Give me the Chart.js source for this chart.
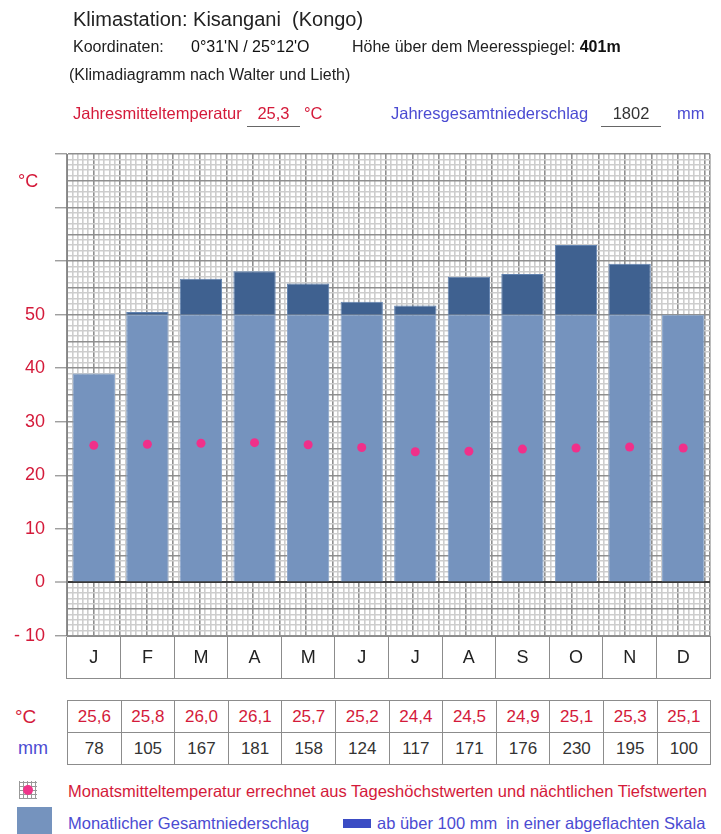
<!DOCTYPE html>
<html>
<head>
<meta charset="utf-8">
<script src="https://cdn.jsdelivr.net/npm/chart.js@4.4.1/dist/chart.umd.min.js"></script>
<style>
  body { margin: 0; background: #fff; font-family: "Liberation Sans", Arial, sans-serif; }
  #page { position: relative; width: 721px; height: 834px; overflow: hidden; }
  .t { position: absolute; white-space: nowrap; line-height: 1; }
  #chart { position: absolute; left: 0; top: 0; }
  .red { color: #d41a3a; }
  .blue { color: #4b4bd2; }
  .uline { position: absolute; height: 0; border-top: 1px solid #666; }
  #tbl { position: absolute; left: 67px; top: 700px; border-collapse: collapse; table-layout: fixed; }
  #tbl td { border: 1px solid #8c8c8c; width: 52.6px; height: 31px; padding: 0; text-align: center; font-size: 17px; }
  #tbl tr.temp td { color: #d41a3a; }
  #tbl tr.mm td { color: #333; }
  .icon { position: absolute; left: 19px; top: 781px; width: 18px; height: 18px;
    background-image: repeating-linear-gradient(0deg, #999 0 1px, transparent 1px 4px),
                      repeating-linear-gradient(90deg, #999 0 1px, transparent 1px 4px); }
  .dot { position: absolute; left: 23px; top: 785px; width: 10px; height: 10px; border-radius: 50%; background: #f0358a; }
</style>
</head>
<body>
<div id="page">
  <canvas id="chart" width="721" height="690"></canvas>

  <div class="t" style="left:73px; top:9px; font-size:20px; color:#222;">Klimastation: Kisangani&nbsp; (Kongo)</div>
  <div class="t" style="left:73px; top:39px; font-size:16px; color:#222;">Koordinaten:</div>
  <div class="t" style="left:191px; top:39px; font-size:16px; color:#111;">0°31'N / 25°12'O</div>
  <div class="t" style="left:352px; top:39px; font-size:16px; color:#222;">Höhe über dem Meeresspiegel: <b style="color:#111">401m</b></div>
  <div class="t" style="left:69px; top:67px; font-size:16px; color:#222;">(Klimadiagramm nach Walter und Lieth)</div>

  <div class="t red" style="left:73px; top:105px; font-size:16.5px;">Jahresmitteltemperatur</div>
  <div class="t red" id="tyear" style="left:247px; width:53px; text-align:center; top:105px; font-size:16.5px;"></div>
  <div class="uline" style="left:247px; top:126px; width:53px;"></div>
  <div class="t red" style="left:304px; top:105px; font-size:16.5px;">°C</div>

  <div class="t blue" style="left:391px; top:105px; font-size:16.5px;">Jahresgesamtniederschlag</div>
  <div class="t" id="pyear" style="left:601px; width:60px; text-align:center; top:105px; font-size:16.5px; color:#333;"></div>
  <div class="uline" style="left:601px; top:126px; width:60px;"></div>
  <div class="t blue" style="left:677px; top:105px; font-size:16.5px;">mm</div>

  <div class="t red" style="left:18px; top:172px; font-size:18px;">°C</div>

  <div class="t red" style="left:15px; top:707px; font-size:19px;">°C</div>
  <div class="t blue" style="left:18px; top:739px; font-size:18px;">mm</div>
  <table id="tbl"><tr class="temp"></tr><tr class="mm"></tr></table>

  <div class="icon"></div><div class="dot"></div>
  <div class="t red" style="left:68px; top:783px; font-size:16.5px;">Monatsmitteltemperatur errechnet aus Tageshöchstwerten und nächtlichen Tiefstwerten</div>
  <div style="position:absolute; left:17px; top:807px; width:35px; height:27px; background:#7593be;"></div>
  <div class="t blue" style="left:68px; top:815px; font-size:16.5px;">Monatlicher Gesamtniederschlag</div>
  <div style="position:absolute; left:343px; top:819px; width:28px; height:9px; background:#3b4cc4;"></div>
  <div class="t blue" style="left:377px; top:815px; font-size:16.5px;">ab über 100 mm&nbsp; in einer abgeflachten Skala</div>
</div>

<script>
var months = ['J', 'F', 'M', 'A', 'M', 'J', 'J', 'A', 'S', 'O', 'N', 'D'];
var temps = [25.6, 25.8, 26.0, 26.1, 25.7, 25.2, 24.4, 24.5, 24.9, 25.1, 25.3, 25.1];
var precip = [78, 105, 167, 181, 158, 124, 117, 171, 176, 230, 195, 100];
var yearTemp = '25,3';
var yearPrecip = '1802';

document.getElementById('tyear').textContent = yearTemp;
document.getElementById('pyear').textContent = yearPrecip;

// table under the diagram
var rowT = document.querySelector('#tbl tr.temp');
var rowP = document.querySelector('#tbl tr.mm');
for (let i = 0; i < 12; i++) {
  let td = document.createElement('td');
  td.textContent = temps[i].toFixed(1).replace('.', ',');
  rowT.appendChild(td);
  let td2 = document.createElement('td');
  td2.textContent = precip[i];
  rowP.appendChild(td2);
}

// Walter-Lieth: 10 °C = 20 mm, above 100 mm the scale is 10x flatter
var lowPart = precip.map(p => Math.min(p, 100) / 2);
var highPart = precip.map(p => p > 100 ? (p - 100) / 10 : 0);

function tickVal(c) {
  return c.tick ? c.tick.value : null;
}
// millimetre paper: thin light lines, every 5th darker
function paperColor(c) {
  var v = tickVal(c);
  if (v === 0 && c.scale.id === 'y') return '#3a3a3a';
  return v % 5 === 0 ? '#8f8f8f' : '#cdcdcd';
}

var monthRow = {
  id: 'monthRow',
  afterDraw(chart) {
    var x = chart.scales.x, c = chart.ctx;
    c.save();
    c.strokeStyle = '#8c8c8c';
    c.lineWidth = 1;
    c.beginPath();
    c.moveTo(x.left, Math.round(x.bottom) - 0.5);
    c.lineTo(x.right, Math.round(x.bottom) - 0.5);
    c.stroke();
    c.restore();
  }
};

var ctx = document.getElementById('chart');
var chart = new Chart(ctx, {
  type: 'bar',
  data: {
    labels: months,
    datasets: [
      {
        label: 'Niederschlag',
        data: lowPart,
        stack: 'p',
        backgroundColor: '#7593be',
        borderColor: '#8ba6cb',
        borderWidth: 1,
        order: 2
      },
      {
        label: 'über 100 mm',
        data: highPart,
        stack: 'p',
        backgroundColor: '#3f6190',
        borderColor: '#6283b0',
        borderWidth: 1,
        order: 2
      },
      {
        type: 'line',
        label: 'Temperatur',
        data: temps,
        stack: 't',
        showLine: false,
        pointRadius: 4.5,
        pointBackgroundColor: '#f0308a',
        pointBorderWidth: 0,
        order: 1
      }
    ]
  },
  options: {
    responsive: false,
    animation: false,
    layout: { padding: { left: 0, right: 11, top: 154, bottom: 11 } },
    barPercentage: 0.79,
    categoryPercentage: 1,
    plugins: { legend: { display: false }, tooltip: { enabled: false } },
    scales: {
      x: {
        stacked: true,
        position: 'bottom',
        afterFit: s => { s.height = 43; },
        grid: { offset: true, drawOnChartArea: false, tickLength: 43, color: '#8c8c8c' },
        border: { display: true, color: '#8c8c8c' },
        ticks: { padding: -32, color: '#222', font: { family: 'Liberation Sans', size: 18 } }
      },
      x2: {
        type: 'linear',
        position: 'top',
        min: 0, max: 120,
        afterFit: s => { s.height = 0; },
        ticks: { display: false, stepSize: 1, autoSkip: false },
        border: { display: false },
        grid: {
          drawTicks: false,
          color: paperColor,
          lineWidth: 1.6
        }
      },
      y: {
        stacked: true,
        min: -10, max: 80,
        afterFit: s => { s.width = 67; },
        border: { display: true, color: '#858585' },
        grid: {
          tickLength: 12,
          color: paperColor,
          lineWidth: c => tickVal(c) === 0 ? 2 : 1.6,
          tickColor: c => tickVal(c) % 10 === 0 ? '#777' : 'rgba(0,0,0,0)',
          tickWidth: 1
        },
        ticks: {
          stepSize: 1,
          autoSkip: false,
          padding: 10,
          color: '#d41a3a',
          font: { family: 'Liberation Sans', size: 18 },
          callback: function(v) {
            if (v === -10) return '- 10';
            if (v % 10 === 0 && v >= 0 && v <= 50) return v;
            return '';
          }
        }
      }
    }
  },
  plugins: [monthRow]
});
</script>
</body>
</html>
